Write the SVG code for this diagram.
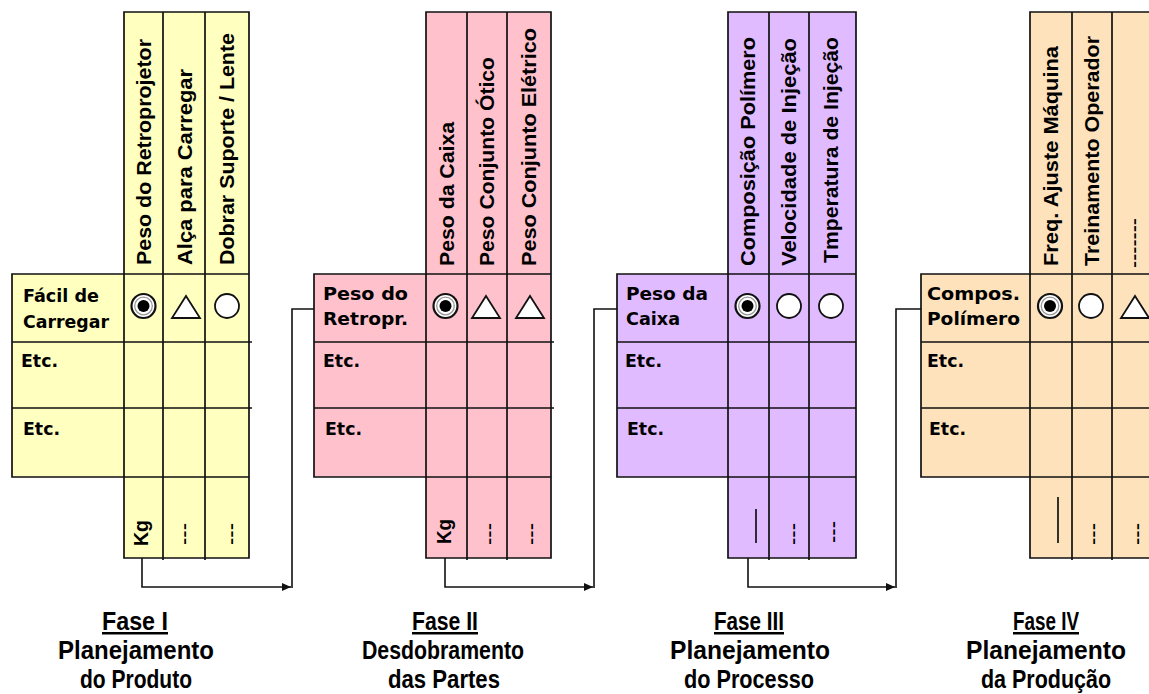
<svg xmlns="http://www.w3.org/2000/svg" width="1149" height="694" viewBox="0 0 1149 694">
  <defs>
    <style>
      .frame { stroke: #111; stroke-width: 1.7; }
      .ln { stroke: #111; stroke-width: 1.7; fill: none; }
      .yel { fill: #FFFFBF; }
      .pnk { fill: #FFC1CC; }
      .pur { fill: #E1BBFF; }
      .org { fill: #FDE2BB; }
      .hdr { font-family: "Liberation Sans", Arial, sans-serif; font-weight: bold; font-size: 20px; fill: #000; }
      .row { font-family: "DejaVu Sans", Verdana, sans-serif; font-weight: bold; font-size: 17.5px; fill: #000; }
      .unit { font-family: "Liberation Sans", Arial, sans-serif; font-weight: bold; font-size: 20px; fill: #000; }
      .dash { font-family: "Liberation Sans", Arial, sans-serif; font-weight: normal; font-size: 22px; fill: #000; }
      .lbl { font-family: "Liberation Sans", Arial, sans-serif; font-weight: bold; font-size: 25px; fill: #000; text-anchor: middle; }
      .ttl { text-decoration: underline; }
      .conn { stroke: #111; stroke-width: 1.6; fill: none; }
      .sym-w { fill: #fff; stroke: #111; stroke-width: 1.8; }
    </style>
    <marker id="ah" markerWidth="10" markerHeight="10" refX="9" refY="5" orient="auto" markerUnits="userSpaceOnUse">
      <path d="M0,1 L9,5 L0,9 Z" fill="#111"/>
    </marker>
    <g id="bull">
      <circle r="12" fill="#fff" stroke="#111" stroke-width="2.2"/>
      <circle r="8.8" fill="none" stroke="#999" stroke-width="1.3"/>
      <circle r="6" fill="#000"/>
    </g>
    <circle id="ring" r="12" class="sym-w"/>
    <path id="tri" d="M0,-11 L14,11 L-14,11 Z" class="sym-w"/>
  </defs>

  <rect width="1149" height="694" fill="#fff"/>

  <!-- Phase I: product planning matrix -->
  <g id="fase1">
    <path class="yel frame" d="M124,12 H249 V558 H124 V477 H12 V274 H124 Z"/>
    <path class="ln" d="M163,12 V560 M205,12 V560 M124,274 V477 M124,274 H249 M12,342 H252 M12,408 H252 M124,477 H249"/>
    <text class="hdr" transform="translate(151,265) rotate(-90)" textLength="226" lengthAdjust="spacingAndGlyphs">Peso do Retroprojetor</text>
    <text class="hdr" transform="translate(192,265) rotate(-90)" textLength="196" lengthAdjust="spacingAndGlyphs">Alça para Carregar</text>
    <text class="hdr" transform="translate(234,265) rotate(-90)" textLength="232" lengthAdjust="spacingAndGlyphs">Dobrar Suporte / Lente</text>
    <text class="row" x="23" y="302" textLength="76" lengthAdjust="spacingAndGlyphs">Fácil de</text>
    <text class="row" x="23" y="328" textLength="86" lengthAdjust="spacingAndGlyphs">Carregar</text>
    <text class="row" x="21" y="367" textLength="37" lengthAdjust="spacingAndGlyphs">Etc.</text>
    <text class="row" x="23" y="435" textLength="37" lengthAdjust="spacingAndGlyphs">Etc.</text>
    <use href="#bull" x="143.5" y="306"/>
    <use href="#tri" x="186" y="307"/>
    <use href="#ring" x="227" y="306"/>
    <text class="unit" transform="translate(148,546) rotate(-90)" textLength="26" lengthAdjust="spacingAndGlyphs">Kg</text>
    <text class="dash" transform="translate(191,545) rotate(-90)" textLength="22" lengthAdjust="spacingAndGlyphs">---</text>
    <text class="dash" transform="translate(238,545) rotate(-90)" textLength="22" lengthAdjust="spacingAndGlyphs">---</text>
  </g>

  <!-- Phase II: parts deployment matrix -->
  <g id="fase2">
    <path class="pnk frame" d="M426,12 H551 V558 H426 V477 H314 V274 H426 Z"/>
    <path class="ln" d="M467,12 V560 M507,12 V560 M426,274 V477 M426,274 H551 M314,342 H554 M314,408 H554 M426,477 H551"/>
    <text class="hdr" transform="translate(454,266) rotate(-90)" textLength="144" lengthAdjust="spacingAndGlyphs">Peso da Caixa</text>
    <text class="hdr" transform="translate(494,266) rotate(-90)" textLength="209" lengthAdjust="spacingAndGlyphs">Peso Conjunto Ótico</text>
    <text class="hdr" transform="translate(536,266) rotate(-90)" textLength="238" lengthAdjust="spacingAndGlyphs">Peso Conjunto Elétrico</text>
    <text class="row" x="323" y="300" textLength="85" lengthAdjust="spacingAndGlyphs">Peso do</text>
    <text class="row" x="323" y="325" textLength="85" lengthAdjust="spacingAndGlyphs">Retropr.</text>
    <text class="row" x="323" y="367" textLength="37" lengthAdjust="spacingAndGlyphs">Etc.</text>
    <text class="row" x="325" y="435" textLength="37" lengthAdjust="spacingAndGlyphs">Etc.</text>
    <use href="#bull" x="445.5" y="306"/>
    <use href="#tri" x="486" y="307"/>
    <use href="#tri" x="530" y="307"/>
    <text class="unit" transform="translate(451,544) rotate(-90)" textLength="25" lengthAdjust="spacingAndGlyphs">Kg</text>
    <text class="dash" transform="translate(496,545) rotate(-90)" textLength="22" lengthAdjust="spacingAndGlyphs">---</text>
    <text class="dash" transform="translate(538,545) rotate(-90)" textLength="22" lengthAdjust="spacingAndGlyphs">---</text>
  </g>

  <!-- Phase III: process planning matrix -->
  <g id="fase3">
    <path class="pur frame" d="M728,12 H856 V558 H728 V477 H617 V274 H728 Z"/>
    <path class="ln" d="M769,12 V560 M809,12 V560 M728,274 V477 M728,274 H856 M617,342 H856 M617,408 H856 M728,477 H856"/>
    <text class="hdr" transform="translate(755,266) rotate(-90)" textLength="229" lengthAdjust="spacingAndGlyphs">Composição Polímero</text>
    <text class="hdr" transform="translate(796,266) rotate(-90)" textLength="228" lengthAdjust="spacingAndGlyphs">Velocidade de Injeção</text>
    <text class="hdr" transform="translate(838,263) rotate(-90)" textLength="226" lengthAdjust="spacingAndGlyphs">Tmperatura de Injeção</text>
    <text class="row" x="626" y="300" textLength="82" lengthAdjust="spacingAndGlyphs">Peso da</text>
    <text class="row" x="626" y="325" textLength="54" lengthAdjust="spacingAndGlyphs">Caixa</text>
    <text class="row" x="625" y="367" textLength="37" lengthAdjust="spacingAndGlyphs">Etc.</text>
    <text class="row" x="627" y="435" textLength="37" lengthAdjust="spacingAndGlyphs">Etc.</text>
    <use href="#bull" x="747.5" y="306"/>
    <use href="#ring" x="789" y="306"/>
    <use href="#ring" x="831" y="306"/>
    <line class="ln" x1="756" y1="509" x2="756" y2="543"/>
    <text class="dash" transform="translate(800,545) rotate(-90)" textLength="22" lengthAdjust="spacingAndGlyphs">---</text>
    <text class="dash" transform="translate(840,543) rotate(-90)" textLength="22" lengthAdjust="spacingAndGlyphs">---</text>
  </g>

  <!-- Phase IV: production planning matrix -->
  <g id="fase4">
    <path class="org frame" d="M1030,12 H1156 V558 H1030 V477 H921 V274 H1030 Z"/>
    <path class="ln" d="M1072,12 V560 M1112,12 V560 M1030,274 V477 M1030,274 H1156 M921,342 H1156 M921,408 H1156 M1030,477 H1156"/>
    <text class="hdr" transform="translate(1058,266) rotate(-90)" textLength="220" lengthAdjust="spacingAndGlyphs">Freq. Ajuste Máquina</text>
    <text class="hdr" transform="translate(1099,266) rotate(-90)" textLength="230" lengthAdjust="spacingAndGlyphs">Treinamento Operador</text>
    <text class="dash" transform="translate(1141,268) rotate(-90)" textLength="50" lengthAdjust="spacingAndGlyphs">-------</text>
    <text class="row" x="927" y="300" textLength="93" lengthAdjust="spacingAndGlyphs">Compos.</text>
    <text class="row" x="927" y="325" textLength="93" lengthAdjust="spacingAndGlyphs">Polímero</text>
    <text class="row" x="927" y="367" textLength="37" lengthAdjust="spacingAndGlyphs">Etc.</text>
    <text class="row" x="929" y="435" textLength="37" lengthAdjust="spacingAndGlyphs">Etc.</text>
    <use href="#bull" x="1050" y="306"/>
    <use href="#ring" x="1091" y="306"/>
    <use href="#tri" x="1135" y="307"/>
    <line class="ln" x1="1058" y1="497" x2="1058" y2="543"/>
    <text class="dash" transform="translate(1100,545) rotate(-90)" textLength="22" lengthAdjust="spacingAndGlyphs">---</text>
    <text class="dash" transform="translate(1144,545) rotate(-90)" textLength="22" lengthAdjust="spacingAndGlyphs">---</text>
  </g>

  <!-- Links: each phase's target value feeds the next phase's row -->
  <g id="connectors">
    <path class="conn" d="M142,558 V587 H291" marker-end="url(#ah)"/>
    <path class="conn" d="M292,588 V309 H314"/>
    <path class="conn" d="M445,558 V587 H593" marker-end="url(#ah)"/>
    <path class="conn" d="M594,588 V309 H617"/>
    <path class="conn" d="M748,558 V587 H895" marker-end="url(#ah)"/>
    <path class="conn" d="M896,588 V309 H921"/>
  </g>

  <!-- Phase captions -->
  <g id="caption1">
    <text class="lbl ttl" x="135" y="630" textLength="66" lengthAdjust="spacingAndGlyphs">Fase I</text>
    <text class="lbl" x="136" y="659" textLength="156" lengthAdjust="spacingAndGlyphs">Planejamento</text>
    <text class="lbl" x="136" y="688" textLength="112" lengthAdjust="spacingAndGlyphs">do Produto</text>
  </g>
  <g id="caption2">
    <text class="lbl ttl" x="445" y="630" textLength="66" lengthAdjust="spacingAndGlyphs">Fase II</text>
    <text class="lbl" x="443" y="659" textLength="162" lengthAdjust="spacingAndGlyphs">Desdobramento</text>
    <text class="lbl" x="444" y="688" textLength="112" lengthAdjust="spacingAndGlyphs">das Partes</text>
  </g>
  <g id="caption3">
    <text class="lbl ttl" x="749" y="630" textLength="70" lengthAdjust="spacingAndGlyphs">Fase III</text>
    <text class="lbl" x="750" y="659" textLength="160" lengthAdjust="spacingAndGlyphs">Planejamento</text>
    <text class="lbl" x="749" y="688" textLength="130" lengthAdjust="spacingAndGlyphs">do Processo</text>
  </g>
  <g id="caption4">
    <text class="lbl ttl" x="1046" y="630" textLength="66" lengthAdjust="spacingAndGlyphs">Fase IV</text>
    <text class="lbl" x="1046" y="659" textLength="160" lengthAdjust="spacingAndGlyphs">Planejamento</text>
    <text class="lbl" x="1046" y="688" textLength="130" lengthAdjust="spacingAndGlyphs">da Produção</text>
  </g>
</svg>
